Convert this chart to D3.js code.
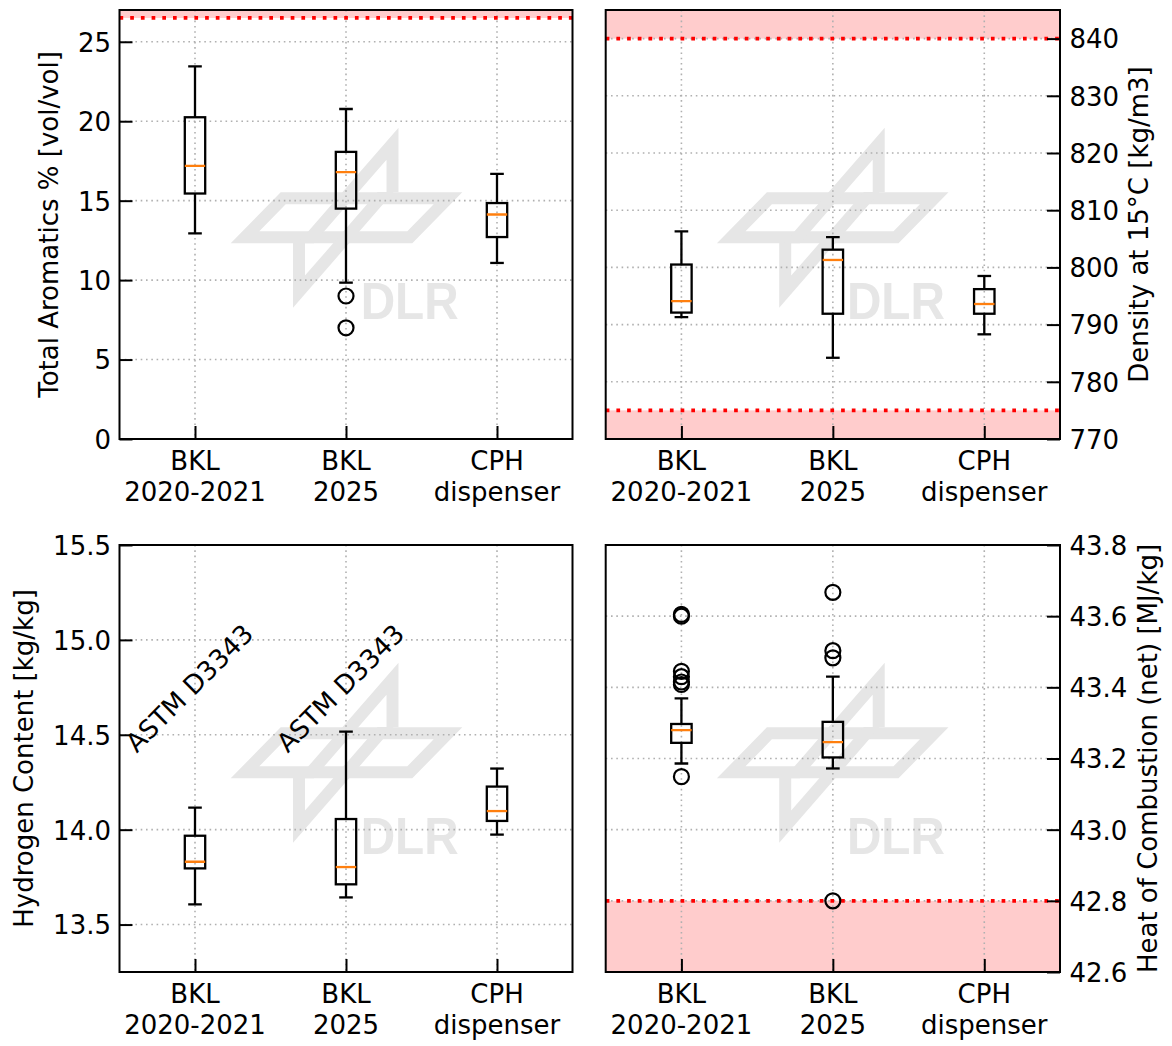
<!DOCTYPE html>
<html>
<head>
<meta charset="utf-8">
<script src="https://cdn.jsdelivr.net/npm/d3@7"></script>
<style>
  body { margin: 0; background: #fff; }
  svg text { font-family: "DejaVu Sans", sans-serif; fill: #000; }
</style>
</head>
<body>
<svg id="fig" width="1172" height="1046"></svg>
<script>
// ---- data -------------------------------------------------------------
const categories = [["BKL", "2020-2021"], ["BKL", "2025"], ["CPH", "dispenser"]];

// box summaries per category: [lower whisker, Q1, median, Q3, upper whisker]
const aromaticsBoxes = [
  [12.94, 15.45, 17.19, 20.25, 23.45],
  [9.84, 14.50, 16.80, 18.07, 20.77],
  [11.08, 12.71, 14.13, 14.85, 16.69]
];
const aromaticsFliers = [[], [9.0, 7.0], []];

const densityBoxes = [
  [791.3, 792.1, 794.1, 800.5, 806.3],
  [784.2, 791.9, 801.3, 803.1, 805.3],
  [788.3, 791.9, 793.6, 796.2, 798.5]
];
const densityFliers = [[], [], []];

const hydrogenBoxes = [
  [13.606, 13.796, 13.831, 13.968, 14.116],
  [13.643, 13.712, 13.803, 14.056, 14.517],
  [13.974, 14.046, 14.098, 14.227, 14.322]
];
const hydrogenFliers = [[], [], []];

const heatBoxes = [
  [43.186, 43.244, 43.280, 43.297, 43.369],
  [43.172, 43.203, 43.246, 43.303, 43.430],
  null
];
const heatFliers = [
  [43.605, 43.600, 43.445, 43.430, 43.415, 43.408, 43.149],
  [43.667, 43.503, 43.483, 42.800],
  []
];

// axis ranges and tick labels
const aromaticsRange = [0, 27];
const densityRange = [770, 845];
const hydrogenRange = [13.25, 15.5];
const heatRange = [42.6, 43.8];

const aromaticsTicks = [0, 5, 10, 15, 20, 25];
const densityTicks = [770, 780, 790, 800, 810, 820, 830, 840];
const hydrogenTicks = [13.5, 14.0, 14.5, 15.0, 15.5];
const heatTicks = [42.6, 42.8, 43.0, 43.2, 43.4, 43.6, 43.8];

// specification limits (out-of-spec zones are shaded)
const aromaticsMax = 26.5;
const densityMin = 775, densityMax = 840;
const heatMin = 42.8;

// method notes on the hydrogen panel
const hydrogenNotes = [{cat: 1, text: "ASTM D3343"}, {cat: 2, text: "ASTM D3343"}];
const hydrogenNoteLevel = 14.4;

// ---- styling / layout -------------------------------------------------
const svg = d3.select("#fig");
const ORANGE = "#ff7f0e";
const GRID = "#b0b0b0";
const BAND = "#ffcccc";
const LOGO = "#e6e6e6";
const BOX_W = 0.135, CAP_W = 0.075;
const LW = 2.3;
const FONT = "26px";

// watermark geometry, in pixels relative to the panel's top-left corner
const logoFrameOuter = [[111.2,233.3],[161.2,182.3],[342.8,182.3],[292.8,233.3]];
const logoFrameInner = [[139.8,221.3],[166.2,194.3],[314.2,194.3],[287.8,221.3]];
const logoUpper = [[279,117.7],[279,182.3],[267,182.3],[267,149.8],[194.3,233.3],[178.4,233.3]];
const logoLower = [[173.5,297.7],[173.5,233.1],[185.5,233.1],[185.5,265.6],[258.2,182.1],[274.1,182.1]];

const panels = [
  { id: "p1", x0: 119.5, x1: 572.5, y0: 10, y1: 439, side: "left",
    range: aromaticsRange, ticks: aromaticsTicks, fmt: d3.format("d"),
    boxes: aromaticsBoxes, fliers: aromaticsFliers,
    bands: [[aromaticsMax, aromaticsRange[1]]], limits: [aromaticsMax],
    label: "Total Aromatics % [vol/vol]", labelX: 58 },
  { id: "p2", x0: 605.7, x1: 1060, y0: 10, y1: 439, side: "right",
    range: densityRange, ticks: densityTicks, fmt: d3.format("d"),
    boxes: densityBoxes, fliers: densityFliers,
    bands: [[densityMax, densityRange[1]], [densityRange[0], densityMin]], limits: [densityMax, densityMin],
    label: "Density at 15°C [kg/m3]", labelX: 1148 },
  { id: "p3", x0: 119.5, x1: 572.5, y0: 545, y1: 972, side: "left",
    range: hydrogenRange, ticks: hydrogenTicks, fmt: d3.format(".1f"),
    boxes: hydrogenBoxes, fliers: hydrogenFliers,
    bands: [], limits: [], notes: hydrogenNotes,
    label: "Hydrogen Content [kg/kg]", labelX: 33 },
  { id: "p4", x0: 605.7, x1: 1060, y0: 545, y1: 972, side: "right",
    range: heatRange, ticks: heatTicks, fmt: d3.format(".1f"),
    boxes: heatBoxes, fliers: heatFliers,
    bands: [[heatRange[0], heatMin]], limits: [heatMin],
    label: "Heat of Combustion (net) [MJ/kg]", labelX: 1157 }
];

const defs = svg.append("defs");

panels.forEach(p => {
  const x = d3.scaleLinear().domain([0.5, 3.5]).range([p.x0, p.x1]);
  const y = d3.scaleLinear().domain(p.range).range([p.y1, p.y0]);
  const w = p.x1 - p.x0, h = p.y1 - p.y0;

  defs.append("clipPath").attr("id", "clip-" + p.id)
    .append("rect").attr("x", p.x0).attr("y", p.y0).attr("width", w).attr("height", h);

  const g = svg.append("g");
  const inner = g.append("g").attr("clip-path", `url(#clip-${p.id})`);

  // shaded out-of-spec zones
  inner.selectAll("rect.band").data(p.bands).join("rect")
    .attr("class", "band")
    .attr("x", p.x0).attr("width", w)
    .attr("y", d => y(d[1])).attr("height", d => y(d[0]) - y(d[1]))
    .attr("fill", BAND);

  // DLR watermark
  const logo = inner.append("g").attr("transform", `translate(${p.x0},${p.y0})`).attr("fill", LOGO);
  const poly = pts => "M" + pts.map(q => q.join(",")).join("L") + "Z";
  logo.append("path").attr("fill-rule", "evenodd").attr("d", poly(logoFrameOuter) + poly(logoFrameInner));
  logo.append("path").attr("d", poly(logoUpper));
  logo.append("path").attr("d", poly(logoLower));
  logo.append("text").attr("x", 241.2).attr("y", 309)
    .attr("textLength", 98).attr("lengthAdjust", "spacingAndGlyphs")
    .style("font-family", "'Liberation Sans', Arial, sans-serif")
    .style("font-weight", "bold").style("font-size", "52px")
    .style("fill", LOGO).text("DLR");

  // dotted grid
  inner.selectAll("line.gy").data(p.ticks).join("line")
    .attr("x1", p.x0).attr("x2", p.x1)
    .attr("y1", d => y(d)).attr("y2", d => y(d))
    .attr("stroke", GRID).attr("stroke-width", 1.6).attr("stroke-dasharray", "1.6,3.7");
  inner.selectAll("line.gx").data([1, 2, 3]).join("line")
    .attr("x1", d => x(d)).attr("x2", d => x(d))
    .attr("y1", p.y0).attr("y2", p.y1)
    .attr("stroke", GRID).attr("stroke-width", 1.6).attr("stroke-dasharray", "1.6,3.7");

  // specification limit lines
  inner.selectAll("line.lim").data(p.limits).join("line")
    .attr("x1", p.x0).attr("x2", p.x1)
    .attr("y1", d => y(d)).attr("y2", d => y(d))
    .attr("stroke", "#ff0000").attr("stroke-width", 3.7).attr("stroke-dasharray", "3.7,7");

  // box plots
  p.boxes.forEach((b, i) => {
    const cx = x(i + 1);
    const bg = inner.append("g").attr("stroke", "#000").attr("stroke-width", LW).attr("fill", "none");
    if (b) {
      const [lo, q1, med, q3, hi] = b;
      bg.append("line").attr("x1", cx).attr("x2", cx).attr("y1", y(q1)).attr("y2", y(lo));
      bg.append("line").attr("x1", cx).attr("x2", cx).attr("y1", y(q3)).attr("y2", y(hi));
      [lo, hi].forEach(v => bg.append("line")
        .attr("x1", x(i + 1 - CAP_W / 2)).attr("x2", x(i + 1 + CAP_W / 2))
        .attr("y1", y(v)).attr("y2", y(v)).attr("stroke-linecap", "square"));
      bg.append("rect")
        .attr("x", x(i + 1 - BOX_W / 2)).attr("width", x(i + 1 + BOX_W / 2) - x(i + 1 - BOX_W / 2))
        .attr("y", y(q3)).attr("height", y(q1) - y(q3));
      bg.append("line")
        .attr("x1", x(i + 1 - BOX_W / 2)).attr("x2", x(i + 1 + BOX_W / 2))
        .attr("y1", y(med)).attr("y2", y(med))
        .attr("stroke", ORANGE);
    }
    bg.selectAll("circle").data(p.fliers[i]).join("circle")
      .attr("cx", cx).attr("cy", d => y(d)).attr("r", 7.5)
      .attr("stroke-width", 2.2);
  });

  // rotated notes
  (p.notes || []).forEach(n => {
    g.append("text")
      .attr("transform", `translate(${x(n.cat - 0.386)},${y(hydrogenNoteLevel)}) rotate(-45)`)
      .style("font-size", FONT).text(n.text);
  });

  // y axis with inward ticks
  const yAxis = (p.side === "left" ? d3.axisLeft(y) : d3.axisRight(y))
    .tickValues(p.ticks).tickFormat(p.fmt).tickSize(-13)
    .tickPadding(p.side === "left" ? 8.5 : 9.5);
  const ya = g.append("g")
    .attr("transform", `translate(${p.side === "left" ? p.x0 : p.x1},0)`)
    .call(yAxis);
  ya.select(".domain").remove();
  ya.selectAll(".tick line").attr("stroke", "#000").attr("stroke-width", 2);
  ya.selectAll(".tick text").style("font-size", FONT).attr("fill", "#000").attr("dy", "0.36em");

  // x axis with two-line category labels
  const xAxis = d3.axisBottom(x).tickValues([1, 2, 3]).tickFormat("").tickSize(-13);
  const xa = g.append("g").attr("transform", `translate(0,${p.y1})`).call(xAxis);
  xa.select(".domain").remove();
  xa.selectAll(".tick line").attr("stroke", "#000").attr("stroke-width", 2);
  xa.selectAll(".tick text").remove();
  categories.forEach((c, i) => {
    const t = g.append("text").attr("text-anchor", "middle").style("font-size", FONT);
    c.forEach((line, k) => t.append("tspan")
      .attr("x", x(i + 1)).attr("y", p.y1 + 31 + k * 31.2).text(line));
  });

  // frame
  g.append("rect").attr("x", p.x0).attr("y", p.y0).attr("width", w).attr("height", h)
    .attr("fill", "none").attr("stroke", "#000").attr("stroke-width", 2);

  // axis title
  g.append("text")
    .attr("transform", `translate(${p.labelX},${(p.y0 + p.y1) / 2}) rotate(-90)`)
    .attr("text-anchor", "middle").style("font-size", FONT)
    .text(p.label);
});
</script>
</body>
</html>
